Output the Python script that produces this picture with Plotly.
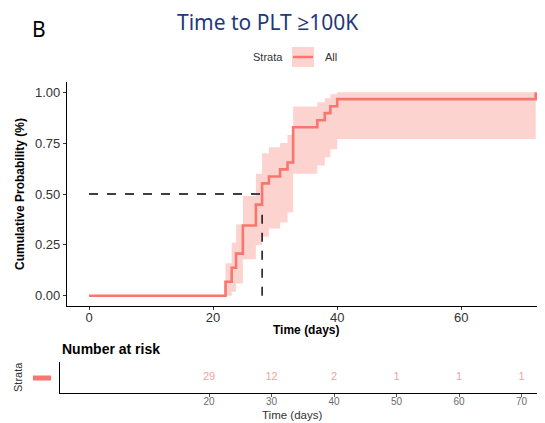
import plotly.graph_objects as go

# ---- data ----
times = [0, 22, 23, 23.7, 24.8, 26.9, 27.9, 29, 30.8, 32, 32.9, 36.8, 38, 38.9, 40, 72]
cum_prob = [0, 0.069, 0.138, 0.207, 0.345, 0.448, 0.552, 0.586, 0.621, 0.655, 0.828, 0.862, 0.897, 0.931, 0.966, 1.0]
ci_lower = [0, 0.0, 0.02, 0.06, 0.18, 0.25, 0.29, 0.33, 0.36, 0.41, 0.60, 0.64, 0.68, 0.72, 0.77, 0.77]
ci_upper = [0, 0.16, 0.26, 0.35, 0.49, 0.60, 0.70, 0.73, 0.75, 0.79, 0.93, 0.95, 0.97, 0.99, 1.0, 1.0]
median_time = 27.9
median_prob = 0.5

risk_times = [20, 30, 40, 50, 60, 70]
risk_counts = [29, 12, 2, 1, 1, 1]

main_xticks = [0, 20, 40, 60]
main_yticks = [0, 0.25, 0.5, 0.75, 1.0]
main_yticklabels = ["0.00", "0.25", "0.50", "0.75", "1.00"]

RED = "#F8766D"
BAND = "rgba(248,118,109,0.32)"
OFF = 8  # page body margin
W, H = 545 - OFF, 423 - OFF

fig = go.Figure()

# confidence band
fig.add_trace(go.Scatter(x=times, y=ci_lower, mode="lines", line=dict(width=0, shape="hv"),
                         showlegend=False, hoverinfo="skip", xaxis="x", yaxis="y"))
fig.add_trace(go.Scatter(x=times, y=ci_upper, mode="lines", line=dict(width=0, shape="hv"),
                         fill="tonexty", fillcolor=BAND, showlegend=False, hoverinfo="skip",
                         xaxis="x", yaxis="y"))
# median lines
fig.add_trace(go.Scatter(x=[0, median_time], y=[median_prob, median_prob], mode="lines",
                         line=dict(color="black", width=1.4, dash="dash"), showlegend=False,
                         xaxis="x", yaxis="y"))
fig.add_trace(go.Scatter(x=[median_time, median_time], y=[0, median_prob], mode="lines",
                         line=dict(color="black", width=1.4, dash="dash"), showlegend=False,
                         xaxis="x", yaxis="y"))
# step curve
fig.add_trace(go.Scatter(x=times, y=cum_prob, mode="lines", line=dict(color=RED, width=2.6, shape="hv"),
                         showlegend=False, xaxis="x", yaxis="y"))

# risk table numbers
fig.add_trace(go.Scatter(x=risk_times, y=[0.5] * len(risk_times), mode="text",
                         text=[str(v) for v in risk_counts],
                         textfont=dict(family="Liberation Sans, Arial", size=11, color="#EFA3A0"),
                         showlegend=False, xaxis="x2", yaxis="y2"))

def px(xp):
    return (xp - OFF) / W

def py(yp):
    return 1 - (yp - OFF) / H

font_axis = dict(family="Liberation Sans, Arial", size=13, color="#333333")

fig.update_layout(
    width=W, height=H,
    margin=dict(l=0, r=0, t=0, b=0),
    paper_bgcolor="white", plot_bgcolor="white",
    xaxis=dict(domain=[px(67), 1], range=[-3.55, 73.5], tickvals=main_xticks,
               showline=True, linecolor="black", linewidth=1.2, ticks="outside", ticklen=3,
               tickcolor="#333", showgrid=False, zeroline=False, tickfont=font_axis, anchor="y",
               ticklabelstandoff=-4),
    yaxis=dict(domain=[py(306), py(82)], range=[-0.05, 1.05], tickvals=main_yticks,
               ticktext=main_yticklabels, showline=True, linecolor="black", linewidth=1.2,
               ticks="outside", ticklen=3, tickcolor="#333", showgrid=False, zeroline=False,
               tickfont=font_axis, anchor="x"),
    xaxis2=dict(domain=[px(60), 1], range=[-3.84, 73.76], tickvals=risk_times,
                showline=True, linecolor="black", linewidth=1.2, ticks="outside", ticklen=3,
                tickcolor="#555", showgrid=False, zeroline=False,
                tickfont=dict(family="Liberation Sans, Arial", size=10, color="#6b6b6b"), anchor="y2",
                ticklabelstandoff=-4),
    yaxis2=dict(domain=[py(393), py(362)], range=[0, 1], showline=True, linecolor="black",
                linewidth=1.2, showticklabels=False, ticks="", showgrid=False, zeroline=False,
                anchor="x2"),
)

def note(text, x, y, size, color="#333", family="Liberation Sans, Arial", xanchor="center", angle=0):
    return dict(text=text, x=px(x), y=py(y), xref="paper", yref="paper", showarrow=False,
                xanchor=xanchor, yanchor="middle", textangle=angle,
                font=dict(family=family, size=size, color=color))

ann = [
    note("Time to PLT ≥100K", 267, 22, 21, "#1F3A78", "Noto Sans, Open Sans"),
    note("B", 39, 29, 21, "black", "Noto Sans, Open Sans"),
    note("Strata", 285, 57, 11, xanchor="right"),
    note("All", 323, 57, 11, xanchor="left"),
    note("<b>Cumulative Probability (%)</b>", 20, 194, 12, "black", angle=-90),
    note("<b>Time (days)</b>", 306, 330, 12, "black"),
    note("<b>Number at risk</b>", 60, 349, 14, "black", xanchor="left"),
    note("Strata", 18, 377, 11, angle=-90),
    note("Time (days)", 292, 414.5, 11.5),
]
fig.update_layout(annotations=ann)

shapes = [
    dict(type="rect", xref="paper", yref="paper", x0=px(292), x1=px(314), y0=py(67), y1=py(47),
         fillcolor=BAND, line=dict(width=0)),
    dict(type="line", xref="paper", yref="paper", x0=px(293), x1=px(313), y0=py(57), y1=py(57),
         line=dict(color=RED, width=2.5)),
    dict(type="line", xref="paper", yref="paper", x0=px(33), x1=px(51), y0=py(378), y1=py(378),
         line=dict(color=RED, width=5)),
]
fig.update_layout(shapes=shapes)

fig.write_html("out.html")
